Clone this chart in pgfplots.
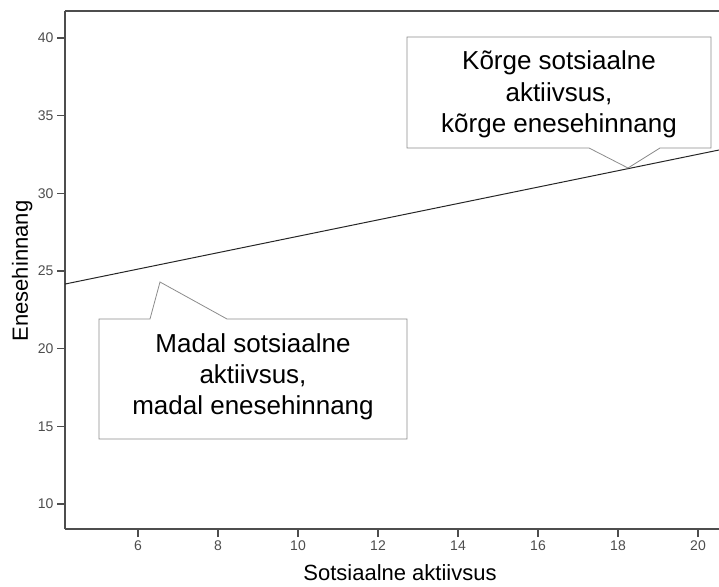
\documentclass[border=0pt]{standalone}
\usepackage{fontspec}
\setmainfont{Liberation Sans}
\usepackage{pgfplots}
\pgfplotsset{compat=1.18}
\definecolor{axisgray}{HTML}{4D4D4D}
\definecolor{boxgray}{HTML}{8C8C8C}
\begin{document}
\begin{tikzpicture}[x=1pt,y=1pt]
\begin{axis}[
  at={(65pt,57pt)}, anchor=south west,
  width=654pt, height=518pt, scale only axis,
  xmin=4.175, xmax=20.525, ymin=8.39, ymax=41.74,
  axis x line*=bottom, axis y line*=left,
  axis line style={axisgray, line width=1.3pt, -},
  xtick={6,8,...,20}, ytick={10,15,...,40},
  tick align=outside, major tick length=8pt,
  tick style={axisgray, line width=1.3pt},
  ticklabel style={font=\fontsize{14}{16}\selectfont, text=axisgray},
  /pgf/number format/assume math mode=true,
  xlabel={Sotsiaalne aktiivsus}, ylabel={Enesehinnang},
  label style={font=\fontsize{22}{26}\selectfont},
  xlabel style={at={(axis description cs:0.5122,-0.0985)}, anchor=base},
  ylabel style={at={(axis description cs:-0.0566,0.498)}, anchor=base},
  clip=true,
]
\addplot[black!85, line width=1pt] coordinates {(4.175,24.16) (20.525,32.79)};
\draw[axisgray, line width=1.3pt] (rel axis cs:0,1) -- (rel axis cs:1,1);
\end{axis}
% upper callout
\draw[boxgray, fill=white, line width=0.8pt] (407,549) -- (711,549) -- (711,438) -- (660,438) -- (628,418) -- (589,438) -- (407,438) -- cycle;
\node[anchor=base, inner sep=0pt, font=\fontsize{26}{31}\selectfont] at (559,516) {Kõrge sotsiaalne};
\node[anchor=base, inner sep=0pt, font=\fontsize{26}{31}\selectfont] at (559,484) {aktiivsus,};
\node[anchor=base, inner sep=0pt, font=\fontsize{26}{31}\selectfont] at (559,453) {kõrge enesehinnang};
% lower callout
\draw[boxgray, fill=white, line width=0.8pt] (99,267) -- (150,267) -- (160,304) -- (227,267) -- (407,267) -- (407,147) -- (99,147) -- cycle;
\node[anchor=base, inner sep=0pt, font=\fontsize{26}{31}\selectfont] at (253,233) {Madal sotsiaalne};
\node[anchor=base, inner sep=0pt, font=\fontsize{26}{31}\selectfont] at (253,202) {aktiivsus,};
\node[anchor=base, inner sep=0pt, font=\fontsize{26}{31}\selectfont] at (253,171) {madal enesehinnang};
\pgfresetboundingbox
\useasboundingbox (0,0) rectangle (719,586);
\end{tikzpicture}
\end{document}
